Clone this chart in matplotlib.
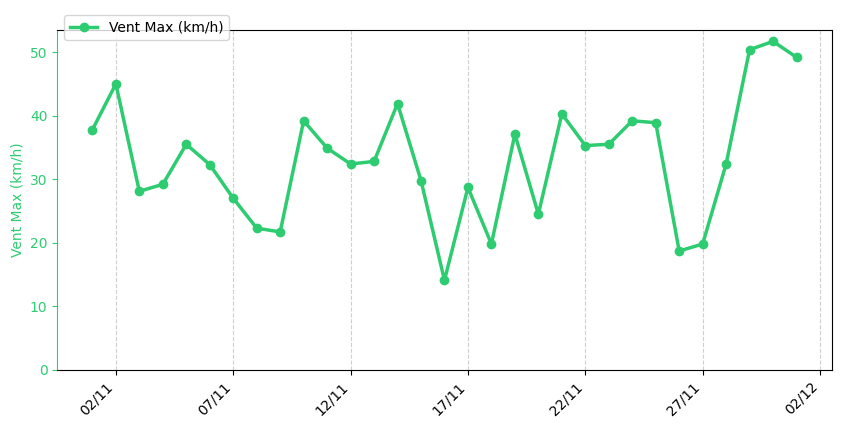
import numpy as np
import pandas as pd
import matplotlib.pyplot as plt
import matplotlib.dates as mdates

dates = pd.date_range('2024-11-01', '2024-12-01', freq='D')
vent_max = [37.8, 45.0, 28.1, 29.2, 35.5, 32.3, 27.0, 22.3, 21.7, 39.2,
            34.9, 32.4, 32.8, 41.9, 29.8, 14.1, 28.7, 19.8, 37.1, 24.5,
            40.3, 35.3, 35.5, 39.2, 38.9, 18.7, 19.8, 32.4, 50.4, 51.7, 49.2]

green = '#2ecc71'

fig = plt.figure(figsize=(8.41, 4.28), dpi=100)
ax = fig.add_axes([0.068, 0.136, 0.921, 0.794])
ax.plot(dates, vent_max, color=green, marker='o', linewidth=2.5, markersize=6,
        label='Vent Max (km/h)')
ax.set_ylabel('Vent Max (km/h)', color=green)
ax.tick_params(axis='y', colors=green)
ax.spines['left'].set_color(green)
ax.set_ylim(0, 53.5)
ax.grid(axis='x', linestyle='--', alpha=0.6)
ax.xaxis.set_major_locator(mdates.DayLocator(bymonthday=[2, 7, 12, 17, 22, 27]))
ax.xaxis.set_major_formatter(mdates.DateFormatter('%d/%m'))
plt.setp(ax.get_xticklabels(), rotation=45, ha='right')
ax.legend(loc='upper left', bbox_to_anchor=(0.0, 1.065), fontsize=10)

fig.savefig('out.png', dpi=100)
